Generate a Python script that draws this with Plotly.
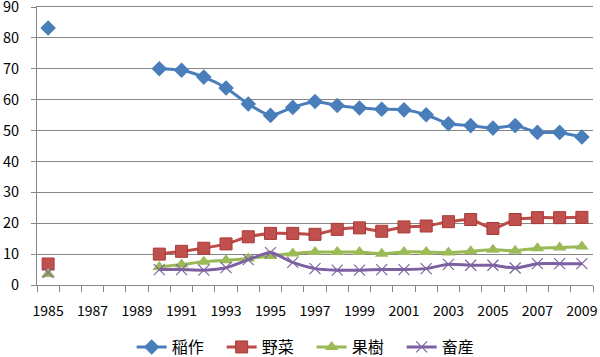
import plotly.graph_objects as go

years = list(range(1985, 2010))
gap = [None] * 4
rice = [83.2] + gap + [70.0, 69.5, 67.3, 63.8, 58.6, 54.9, 57.5, 59.4, 58.1, 57.3,
                       56.9, 56.7, 55.1, 52.2, 51.6, 50.8, 51.6, 49.4, 49.4, 47.9]
veg = [6.8] + gap + [10.0, 10.9, 11.9, 13.3, 15.6, 16.7, 16.7, 16.4, 18.0, 18.5,
                     17.4, 18.8, 19.1, 20.5, 21.2, 18.3, 21.2, 21.8, 21.8, 21.9]
fruit = [3.6] + gap + [5.8, 6.6, 7.5, 8.0, 8.6, 9.4, 10.2, 10.7, 10.7, 10.7,
                       10.1, 10.7, 10.7, 10.5, 10.9, 11.4, 11.1, 11.9, 12.1, 12.5]
live = [4.0] + gap + [5.0, 5.0, 4.8, 5.6, 8.2, 10.5, 7.3, 5.3, 4.8, 4.8,
                      5.0, 5.0, 5.3, 6.7, 6.4, 6.4, 5.5, 6.9, 6.9, 6.9]
names = ["稲作", "野菜", "果樹", "畜産"]
tick_years = list(range(1985, 2010, 2))
tick_labels = [str(y) for y in tick_years]
y_ticks = list(range(0, 100, 10))

series = [
    (rice, names[0], "#4A7EBB", dict(symbol="diamond", size=12, color="#4A7EBB")),
    (veg, names[1], "#BE4B48", dict(symbol="square", size=12, color="#C0504D",
                                    line=dict(color="#A83A37", width=1))),
    (fruit, names[2], "#98B954", dict(symbol="triangle-up", size=12, color="#9BBB59")),
    (live, names[3], "#7D60A0", dict(symbol="x-thin", size=11,
                                     line=dict(color="#8064A2", width=1.2))),
]

fig = go.Figure()
for vals, nm, col, mk in series:
    fig.add_trace(go.Scatter(
        x=years, y=vals, name=nm, mode="lines+markers",
        line=dict(color=col, width=3, shape="spline", smoothing=0.6),
        marker=mk, connectgaps=False,
    ))

font_fam = "Noto Sans CJK JP, Noto Sans, sans-serif"
fig.update_layout(
    width=600, height=357,
    margin=dict(l=37, r=7, t=7, b=72, autoexpand=False),
    plot_bgcolor="white", paper_bgcolor="white",
    font=dict(family=font_fam, size=14, color="#000000"),
    showlegend=True,
    legend=dict(orientation="h", x=0.494, xanchor="center", y=-0.162, yanchor="top",
                font=dict(size=16), tracegroupgap=0,
                entrywidth=45, entrywidthmode="pixels",
                bgcolor="rgba(0,0,0,0)"),
)
fig.update_xaxes(
    automargin=False,
    range=[1984.5, 2009.5],
    tickmode="array", tickvals=tick_years, ticktext=tick_labels,
    ticks="", showgrid=False, zeroline=False,
    showline=True, linecolor="#868686", linewidth=1, mirror=True,
    tickfont=dict(size=14), ticklabelstandoff=13, ticklabeloverflow="allow",
    minor=dict(tickmode="linear", tick0=0.5, dtick=1, ticks="outside",
               ticklen=6, tickcolor="#868686", tickwidth=1, showgrid=False),
)
fig.update_yaxes(
    automargin=False,
    range=[0, 90], tickmode="array", tickvals=y_ticks,
    showgrid=True, gridcolor="#868686", gridwidth=1,
    zeroline=False, showline=True, linecolor="#868686", linewidth=1,
    ticks="outside", ticklen=5, tickcolor="#868686",
    tickfont=dict(size=14.5), ticklabelstandoff=9, ticklabeloverflow="allow",
)
fig.write_html("out.html", config={"displayModeBar": False},
               post_script="document.body.style.margin='0';document.body.style.overflow='hidden';")
